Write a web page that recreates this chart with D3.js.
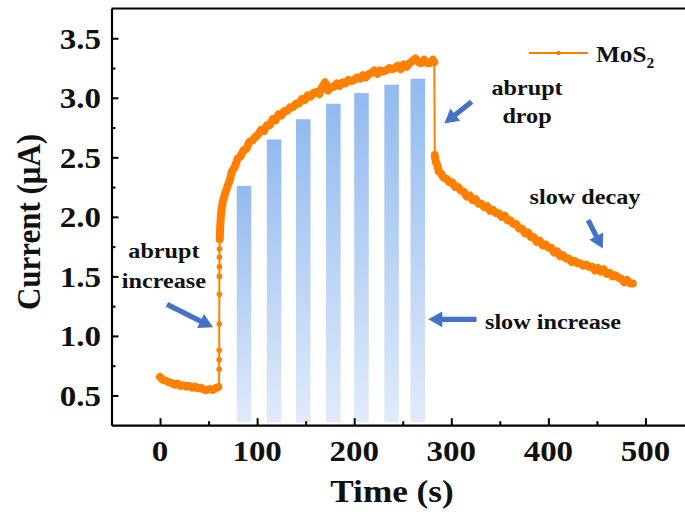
<!DOCTYPE html>
<html>
<head>
<meta charset="utf-8">
<script src="https://cdn.jsdelivr.net/npm/d3@7"></script>
<style>
  body { margin: 0; background: #fff; }
  svg { display: block; }
  text { font-family: "Liberation Serif", "Times New Roman", serif; font-weight: bold; fill: #111; }
</style>
</head>
<body>
<svg id="chart" width="685" height="516"></svg>
<script>
// Photocurrent of MoS2 under light pulses: time (s) and current (µA)
const timeS = [
  0, 3, 6, 9, 12, 15, 18, 21, 24, 27, 30, 33, 36, 39, 42, 45, 48, 51, 54, 57, 60,
  60.8, 60.9, 60.9, 61.0, 61.0, 61.1, 61.1, 61.2, 61.2, 61.3, 61.5, 61.8, 62.2, 62.8, 63.5, 64.5, 66, 68, 70,
  72, 74, 77, 80, 83, 86, 89, 92, 95, 98, 101, 104, 107, 110, 113, 116, 119, 122, 125, 128,
  131, 134, 137, 140, 143, 146, 149, 152, 155, 158, 161, 164, 167, 170, 173, 176, 179, 182, 185, 188,
  191, 194, 197, 200, 203, 206, 209, 212, 215, 218, 221, 224, 227, 230, 233, 236, 239, 242, 245, 248,
  251, 254, 257, 260, 263, 266, 269, 272, 275, 278, 281, 282.5,
  283, 284, 285.5, 287, 289, 292, 295, 298, 301, 304, 307, 310, 313, 316, 319, 322, 325, 328, 331, 334,
  337, 340, 343, 346, 349, 352, 355, 358, 361, 364, 367, 370, 373, 376, 379, 382, 385, 388, 391, 394,
  397, 400, 403, 406, 409, 412, 415, 418, 421, 424, 427, 430, 433, 436, 439, 442, 445, 448, 451, 454,
  457, 460, 463, 466, 469, 472, 475, 478, 481, 484, 487
];
const currentUA = [
  0.655, 0.63, 0.625, 0.61, 0.605, 0.59, 0.60, 0.58, 0.585, 0.575, 0.58, 0.565, 0.575, 0.56, 0.565, 0.55, 0.545, 0.555, 0.545, 0.56, 0.57,
  0.58, 0.72, 0.80, 0.88, 1.10, 1.35, 1.50, 1.58, 1.66, 1.73, 1.81, 1.88, 1.95, 2.02, 2.07, 2.12, 2.17, 2.22, 2.27,
  2.31, 2.38, 2.42, 2.49, 2.51, 2.56, 2.57, 2.63, 2.64, 2.67, 2.69, 2.73, 2.72, 2.77, 2.77, 2.82, 2.81, 2.86, 2.85, 2.89,
  2.89, 2.92, 2.92, 2.95, 2.95, 2.99, 2.98, 3.02, 3.01, 3.04, 3.05, 3.03, 3.09, 3.13, 3.06, 3.09, 3.09, 3.12, 3.10, 3.13,
  3.12, 3.15, 3.14, 3.15, 3.17, 3.16, 3.19, 3.17, 3.20, 3.21, 3.23, 3.20, 3.23, 3.22, 3.23, 3.25, 3.24, 3.25, 3.27, 3.24,
  3.28, 3.26, 3.29, 3.31, 3.33, 3.30, 3.29, 3.32, 3.29, 3.29, 3.32, 3.30,
  2.52, 2.46, 2.44, 2.38, 2.37, 2.33, 2.32, 2.29, 2.29, 2.25, 2.25, 2.22, 2.21, 2.17, 2.18, 2.14, 2.15, 2.11, 2.11, 2.08,
  2.09, 2.05, 2.06, 2.03, 2.03, 2.00, 2.01, 1.97, 1.97, 1.94, 1.94, 1.90, 1.90, 1.86, 1.87, 1.83, 1.83, 1.79, 1.80, 1.76,
  1.77, 1.74, 1.74, 1.70, 1.71, 1.67, 1.68, 1.65, 1.65, 1.62, 1.63, 1.61, 1.61, 1.59, 1.60, 1.58, 1.58, 1.55, 1.57, 1.54,
  1.56, 1.52, 1.53, 1.50, 1.51, 1.49, 1.48, 1.45, 1.47, 1.44, 1.44
];

// Light switched on / off (s)
const lightOn = 60.8, lightOff = 282.5;

// Light pulses (start/end in s) and the current level each one reaches
const pulseStart = [79, 110, 140, 171, 200, 231, 258];
const pulseEnd   = [94, 125, 155, 186, 215, 246, 273];
const pulseLevel = [2.26, 2.65, 2.82, 2.95, 3.04, 3.11, 3.16];

const xTicks = [0, 100, 200, 300, 400, 500];
const xMinor = [50, 150, 250, 350, 450];
const yTicks = [0.5, 1.0, 1.5, 2.0, 2.5, 3.0, 3.5];
const yMinor = [0.75, 1.25, 1.75, 2.25, 2.75, 3.25];

const seriesName = "MoS";
const seriesSub = "2";

// Annotation texts and arrows, placed in data units [time, current]
const notes = [
  { lines: ["abrupt", "increase"], at: [4, 1.652], gap: 0.252 },
  { lines: ["abrupt", "drop"], at: [378, 3.023], gap: 0.238 },
  { lines: ["slow decay"], at: [437.7, 2.112], gap: 0 },
];
const slowIncreaseAt = [334.7, 1.061];
const arrows = [
  { from: [7.2, 1.265], to: [54.6, 1.072] },
  { from: [321, 2.967], to: [292.8, 2.785] },
  { from: [441, 1.972], to: [456, 1.734] },
  { from: [326, 1.139], to: [276.3, 1.139] },
];

const SX = 1.1; // horizontal stretch of the lettering
const orange = "#ff8000", blue = "#4472c4";

const svg = d3.select("#chart");
const x = d3.scaleLinear().domain([-50, 550]).range([111.5, 694]);
const y = d3.scaleLinear().domain([0.25, 3.75]).range([425.2, 8.5]);

// gradient for the pulse bars
const defs = svg.append("defs");
const grad = defs.append("linearGradient").attr("id", "pulseFill")
  .attr("x1", 0).attr("y1", 0).attr("x2", 0).attr("y2", 1);
grad.append("stop").attr("offset", "0%").attr("stop-color", "#92baef");
grad.append("stop").attr("offset", "100%").attr("stop-color", "#e0ebfa");

// pulse bars
svg.append("g").selectAll("rect").data(pulseLevel).join("rect")
  .attr("x", (d, i) => x(pulseStart[i]))
  .attr("width", (d, i) => x(pulseEnd[i]) - x(pulseStart[i]))
  .attr("y", d => y(d))
  .attr("height", d => y(0.25) - y(d) - 3)
  .attr("fill", "url(#pulseFill)");

// current trace
const pts = timeS.map((t, i) => [t, currentUA[i]]);
const line = d3.line().x(d => x(d[0])).y(d => y(d[1]));
// thin connecting line through every sample
svg.append("path").datum(pts)
  .attr("fill", "none").attr("stroke", orange).attr("stroke-width", 2)
  .attr("stroke-linejoin", "round")
  .attr("d", line);
// densely sampled stretches drawn as a heavy band of overlapping markers
const runs = [
  pts.filter(d => d[0] < lightOn),
  pts.filter(d => d[0] > lightOn + 0.6 && d[0] <= lightOff),
  pts.filter(d => d[0] > lightOff),
];
svg.append("g").selectAll("path").data(runs).join("path")
  .attr("fill", "none").attr("stroke", orange)
  .attr("stroke-width", 8)
  .attr("stroke-linejoin", "round").attr("stroke-linecap", "round")
  .attr("d", line);
svg.append("g").selectAll("circle").data(pts).join("circle")
  .attr("cx", d => x(d[0])).attr("cy", d => y(d[1]))
  .attr("r", 2.8).attr("fill", orange);

// axes (ticks point inward)
const axisStyle = g => {
  g.selectAll("path.domain").attr("stroke", "#000").attr("stroke-width", 2.2);
  g.selectAll(".tick line").attr("stroke", "#000").attr("stroke-width", 2);
  g.selectAll("text").remove();
};
svg.append("g").attr("transform", `translate(0,${y(0.25)})`)
  .call(d3.axisBottom(x).tickValues(xTicks).tickSizeInner(-7).tickSizeOuter(0))
  .call(axisStyle);
svg.append("g").attr("transform", `translate(0,${y(0.25)})`)
  .call(d3.axisBottom(x).tickValues(xMinor).tickSizeInner(-4).tickSizeOuter(0))
  .call(axisStyle).call(g => g.select("path.domain").remove());
svg.append("g").attr("transform", `translate(${x(-50)},0)`)
  .call(d3.axisLeft(y).tickValues(yTicks).tickSizeInner(-7).tickSizeOuter(0))
  .call(axisStyle);
svg.append("g").attr("transform", `translate(${x(-50)},0)`)
  .call(d3.axisLeft(y).tickValues(yMinor).tickSizeInner(-4).tickSizeOuter(0))
  .call(axisStyle).call(g => g.select("path.domain").remove());
// top frame line
svg.append("line").attr("x1", x(-50)).attr("x2", x(550)).attr("y1", y(3.75)).attr("y2", y(3.75))
  .attr("stroke", "#000").attr("stroke-width", 2.2);

function label(px, py, str, size, anchor) {
  return svg.append("text")
    .attr("transform", `translate(${px},${py}) scale(${SX},1)`)
    .attr("text-anchor", anchor || "middle")
    .attr("font-size", size)
    .text(str);
}

// tick labels
xTicks.forEach(t => label(x(t), 461, String(t), 30));
yTicks.forEach(v => label(101, y(v) + 10.5, v.toFixed(1), 30, "end"));

// axis titles
label(392, 502, "Time (s)", 32);
svg.append("text")
  .attr("transform", `translate(40,222) rotate(-90) scale(1,${SX})`)
  .attr("text-anchor", "middle").attr("font-size", 31)
  .text("Current (μA)");

// legend
svg.append("line").attr("x1", 529).attr("x2", 588).attr("y1", 53).attr("y2", 53)
  .attr("stroke", orange).attr("stroke-width", 2.2);
svg.append("circle").attr("cx", 558.5).attr("cy", 53).attr("r", 2.2).attr("fill", orange);
const leg = label(596, 61.5, "", 23, "start");
leg.append("tspan").text(seriesName);
leg.append("tspan").attr("font-size", 14).attr("dy", 6).text(seriesSub);

// annotations
notes.forEach(n => {
  n.lines.forEach((s, i) => label(x(n.at[0]), y(n.at[1] - i * n.gap), s, 22));
});
label(x(slowIncreaseAt[0]), y(slowIncreaseAt[1]), "slow increase", 22, "start");

// block arrows
function arrowPoly(p0, p1) {
  const [x0, y0] = [x(p0[0]), y(p0[1])], [x1, y1] = [x(p1[0]), y(p1[1])];
  const L = Math.hypot(x1 - x0, y1 - y0), ux = (x1 - x0) / L, uy = (y1 - y0) / L;
  const nx = -uy, ny = ux, sw = 2.6, hw = 7.8, hl = 14;
  const bx = x1 - ux * hl, by = y1 - uy * hl;
  return [[x0 + nx * sw, y0 + ny * sw], [bx + nx * sw, by + ny * sw], [bx + nx * hw, by + ny * hw],
          [x1, y1], [bx - nx * hw, by - ny * hw], [bx - nx * sw, by - ny * sw], [x0 - nx * sw, y0 - ny * sw]];
}
svg.append("g").selectAll("polygon").data(arrows).join("polygon")
  .attr("points", d => arrowPoly(d.from, d.to).map(p => p.join(",")).join(" "))
  .attr("fill", blue);
</script>
</body>
</html>
